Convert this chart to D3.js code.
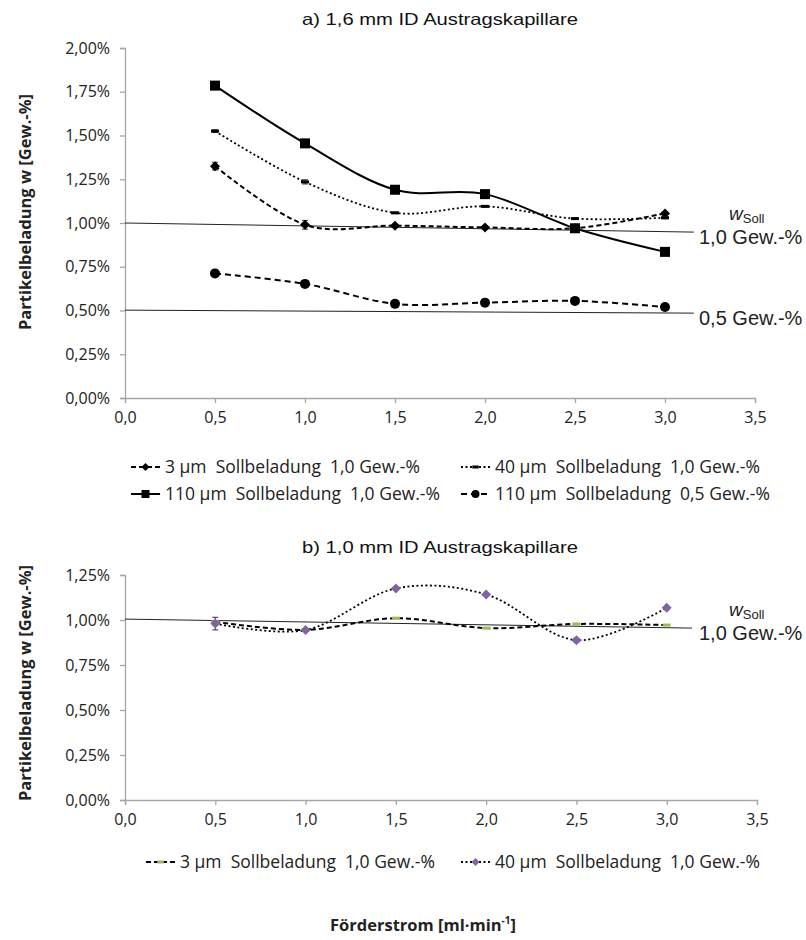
<!DOCTYPE html>
<html><head><meta charset="utf-8">
<script src="https://cdn.jsdelivr.net/npm/d3@7/dist/d3.min.js"></script>
<style>body{margin:0;background:#fff}svg{display:block}</style>
</head><body>
<svg id="c" width="806" height="940"></svg>
<script>
// ---------- data ----------
const flow = [0.5, 1.0, 1.5, 2.0, 2.5, 3.0];
const xTicks = [0, 0.5, 1.0, 1.5, 2.0, 2.5, 3.0, 3.5];
const yTicksA = [0, 0.25, 0.5, 0.75, 1.0, 1.25, 1.5, 1.75, 2.0];
const yTicksB = [0, 0.25, 0.5, 0.75, 1.0, 1.25];

// chart a) 1,6 mm
const a_3um   = [1.325, 0.99, 0.985, 0.975, 0.97, 1.055];
const a_3umErr = [0.022, 0.025, 0.008, 0.01, 0.005, 0.008];
const a_40um  = [1.525, 1.235, 1.058, 1.095, 1.025, 1.03];
const a_40umErr = [0.008, 0.012, 0.004, 0.004, 0.004, 0.006];
const a_110um = [1.785, 1.455, 1.19, 1.165, 0.97, 0.835];
const a_110um05 = [0.712, 0.652, 0.538, 0.545, 0.555, 0.52];
const a_ref10 = [[0, 1.0], [3.16, 0.948]];
const a_ref05 = [[0, 0.502], [3.16, 0.485]];

// chart b) 1,0 mm
const b_3um  = [0.99, 0.945, 1.01, 0.955, 0.978, 0.972];
const b_40um = [0.98, 0.944, 1.175, 1.142, 0.888, 1.068];
const b_40umErr = [0.035, 0.006, 0.004, 0.004, 0.01, 0.004];
const b_ref10 = [[0, 1.005], [3.14, 0.955]];

const legendA = ["3 µm  Sollbeladung  1,0 Gew.-%", "40 µm  Sollbeladung  1,0 Gew.-%",
                 "110 µm  Sollbeladung  1,0 Gew.-%", "110 µm  Sollbeladung  0,5 Gew.-%"];
const legendB = ["3 µm  Sollbeladung  1,0 Gew.-%", "40 µm  Sollbeladung  1,0 Gew.-%"];

// ---------- drawing ----------
const svg = d3.select("#c");
const fmtX = d => d.toFixed(1).replace(".", ",");
const fmtY = d => d.toFixed(2).replace(".", ",") + "%";
const tickFont = "'Open Sans', sans-serif";
const axisCol = "#a6a6a6";

function panel(cfg) {
  const x = d3.scaleLinear().domain([0, 3.5]).range([cfg.x0, cfg.x1]);
  const y = d3.scaleLinear().domain([0, cfg.yMax]).range([cfg.y0, cfg.y1]);
  const g = svg.append("g");
  const ya = g.append("g").attr("transform", `translate(${cfg.x0},0)`)
    .call(d3.axisLeft(y).tickValues(cfg.yTicks).tickFormat(fmtY).tickSize(5).tickPadding(10));
  const xa = g.append("g").attr("transform", `translate(0,${cfg.y0})`)
    .call(d3.axisBottom(x).tickValues(xTicks).tickFormat(fmtX).tickSize(5).tickPadding(9));
  [ya, xa].forEach(a => {
    a.selectAll("path,line").attr("stroke", axisCol).attr("stroke-width", 1.3);
    a.selectAll("text").attr("font-family", tickFont).attr("font-size", 16).attr("fill", "#222");
  });
  g.append("text").attr("x", 440).attr("y", cfg.titleY).attr("text-anchor", "middle")
    .attr("font-family", "'Liberation Sans', Arial, sans-serif").attr("font-size", 16.5)
    .attr("textLength", 276).attr("lengthAdjust", "spacingAndGlyphs").attr("fill", "#111")
    .text(cfg.title);
  g.append("text").attr("transform", `translate(25,${cfg.yTitleY}) rotate(-90)`)
    .attr("text-anchor", "middle").attr("font-family", tickFont).attr("font-size", 16.5)
    .attr("font-weight", "bold").attr("fill", "#222").attr("dy", "0.35em")
    .text("Partikelbeladung w [Gew.-%]");
  return {g, x, y};
}

function refLine(p, pts, label, showW) {
  const line = d3.line().x(d => p.x(d[0])).y(d => p.y(d[1]));
  p.g.append("path").attr("d", line(pts)).attr("fill", "none").attr("stroke", "#222").attr("stroke-width", 1);
  const endY = p.y(pts[1][1]);
  if (showW) {
    const t = p.g.append("text").attr("x", 729).attr("y", endY - 12)
      .attr("font-family", "'Liberation Sans', Arial, sans-serif").attr("font-size", 19).attr("fill", "#222");
    t.append("tspan").attr("font-style", "italic").text("w");
    t.append("tspan").attr("font-size", 13).attr("dy", 3).text("Soll");
  }
  p.g.append("text").attr("x", 699).attr("y", endY + 12)
    .attr("font-family", "'Liberation Sans', Arial, sans-serif").attr("font-size", 20).attr("fill", "#222")
    .text(label);
}

function series(p, vals, style, errs) {
  const pts = flow.map((f, i) => [f, vals[i]]);
  const line = d3.line().x(d => p.x(d[0])).y(d => p.y(d[1])).curve(d3.curveCatmullRom.alpha(0));
  p.g.append("path").attr("d", line(pts)).attr("fill", "none")
    .attr("stroke", style.stroke || "#000").attr("stroke-width", style.width || 2)
    .attr("stroke-dasharray", style.dash || null);
  if (errs) {
    const eg = p.g.append("g").attr("stroke", "#333").attr("stroke-width", 1);
    pts.forEach((d, i) => {
      const cx = p.x(d[0]), t = p.y(d[1] + errs[i]), b = p.y(d[1] - errs[i]);
      eg.append("line").attr("x1", cx).attr("x2", cx).attr("y1", t).attr("y2", b);
      eg.append("line").attr("x1", cx - 3).attr("x2", cx + 3).attr("y1", t).attr("y2", t);
      eg.append("line").attr("x1", cx - 3).attr("x2", cx + 3).attr("y1", b).attr("y2", b);
    });
  }
  pts.forEach(d => marker(p.g, p.x(d[0]), p.y(d[1]), style.marker, style.mcol || "#000", 1));
}

function marker(g, cx, cy, type, col, s) {
  if (type === "diamond") {
    const r = 5 * s;
    g.append("path").attr("d", `M${cx},${cy-r}L${cx+r},${cy}L${cx},${cy+r}L${cx-r},${cy}Z`).attr("fill", col);
  } else if (type === "square") {
    const r = 5 * s;
    g.append("rect").attr("x", cx - r).attr("y", cy - r).attr("width", 2 * r).attr("height", 2 * r).attr("fill", col);
  } else if (type === "circle") {
    g.append("circle").attr("cx", cx).attr("cy", cy).attr("r", 5 * s).attr("fill", col);
  } else if (type === "dash") {
    g.append("rect").attr("x", cx - 4 * s).attr("y", cy - 1.5).attr("width", 8 * s).attr("height", 3).attr("fill", col);
  }
}

function legendItem(g, lx, ly, style, text) {
  g.append("line").attr("x1", lx).attr("x2", lx + 29).attr("y1", ly).attr("y2", ly)
    .attr("stroke", style.stroke || "#000").attr("stroke-width", style.width || 2)
    .attr("stroke-dasharray", style.dash || null);
  marker(g, lx + 14.5, ly, style.marker, style.mcol || "#000", 0.8);
  g.append("text").attr("x", lx + 34).attr("y", ly).attr("dy", "0.35em").attr("font-family", tickFont)
    .attr("font-size", 17.5).attr("fill", "#222").attr("xml:space", "preserve").text(text);
}

const sty3  = {dash: "5,3", marker: "diamond"};
const sty40 = {dash: "2,2.5", width: 1.8, marker: "dash"};
const sty110 = {marker: "square"};
const sty110b = {dash: "6,4", marker: "circle"};

// ---- panel a ----
const A = panel({x0: 125, x1: 755, y0: 398, y1: 48, yMax: 2.0, yTicks: yTicksA,
  title: "a) 1,6 mm ID Austragskapillare", titleY: 25, yTitleY: 212});
refLine(A, a_ref10, "1,0 Gew.-%", true);
refLine(A, a_ref05, "0,5 Gew.-%", false);
series(A, a_110um05, sty110b);
series(A, a_3um, sty3, a_3umErr);
series(A, a_40um, sty40, a_40umErr);
series(A, a_110um, sty110);
const LA = svg.append("g");
legendItem(LA, 131, 467, sty3, legendA[0]);
legendItem(LA, 461, 467, sty40, legendA[1]);
legendItem(LA, 131, 494, sty110, legendA[2]);
legendItem(LA, 461, 494, sty110b, legendA[3]);

// ---- panel b ----
const B = panel({x0: 125, x1: 757, y0: 800, y1: 575, yMax: 1.25, yTicks: yTicksB,
  title: "b) 1,0 mm ID Austragskapillare", titleY: 553, yTitleY: 683});
refLine(B, b_ref10, "1,0 Gew.-%", true);
const styB3 = {dash: "5,3", marker: "dash", mcol: "#9bbb59"};
const styB40 = {dash: "2,2.5", width: 1.8, marker: "diamond", mcol: "#8064a2"};
series(B, b_3um, styB3);
series(B, b_40um, styB40, b_40umErr);
const LB = svg.append("g");
legendItem(LB, 146, 862, styB3, legendB[0]);
legendItem(LB, 461, 862, styB40, legendB[1]);

// x title
const xt = svg.append("text").attr("x", 423).attr("y", 931).attr("text-anchor", "middle")
  .attr("font-family", tickFont).attr("font-size", 16.5).attr("font-weight", "bold").attr("fill", "#222");
xt.append("tspan").text("Förderstrom [ml·min");
xt.append("tspan").attr("font-size", 10).attr("dy", -7).text("-1");
xt.append("tspan").attr("dy", 7).text("]");
</script>
</body></html>
